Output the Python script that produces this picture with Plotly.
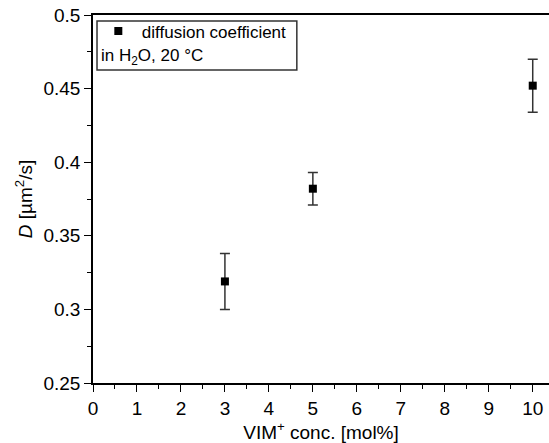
import plotly.graph_objects as go

conc = [3, 5, 10]
D = [0.319, 0.382, 0.452]
D_err = [0.019, 0.011, 0.018]

series_name = "diffusion coefficient"
note = "in H<sub>2</sub>O, 20 °C"

FONT = "Liberation Sans, Arial, sans-serif"

fig = go.Figure()
fig.add_trace(go.Scatter(
    x=conc, y=D, mode="markers", name=series_name,
    marker=dict(symbol="square", size=8, color="black"),
    error_y=dict(type="data", array=D_err, visible=True, color="#333333", thickness=1.5, width=5),
))

fig.update_layout(
    width=549, height=443,
    margin=dict(l=93, r=0, t=15, b=60),
    plot_bgcolor="white", paper_bgcolor="white",
    font=dict(family=FONT, size=19, color="black"),
    showlegend=True,
    legend=dict(x=0.004, y=1.004, xanchor="left", yanchor="top",
                bgcolor="rgba(0,0,0,0)", font=dict(size=17), itemwidth=37),
    xaxis=dict(range=[0, 10.37], dtick=1, tick0=0, showgrid=False, zeroline=False,
               showline=True, linecolor="black", linewidth=1.5, mirror=True,
               ticks="outside", ticklen=7, tickwidth=1.2, tickcolor="black",
               minor=dict(dtick=0.5, ticks="outside", ticklen=4, tickcolor="black"),
               title=dict(text="VIM<sup>+</sup> conc. [mol%]", standoff=2, font=dict(size=19))),
    yaxis=dict(range=[0.25, 0.5], dtick=0.05, tick0=0.25, showgrid=False, zeroline=False,
               showline=True, linecolor="black", linewidth=1.5,
               ticks="outside", ticklen=7, tickwidth=1.2, tickcolor="black",
               minor=dict(dtick=0.025, ticks="outside", ticklen=4, tickcolor="black"),
               title=dict(text="<i>D</i> [µm<sup>2</sup>/s]", standoff=6, font=dict(size=19))),
)

fig.add_shape(type="rect", xref="paper", yref="paper",
              x0=0.0088, x1=0.447, y0=0.8505, y1=0.9837,
              line=dict(color="#333333", width=1.5), fillcolor="rgba(0,0,0,0)")
fig.add_annotation(text=note, xref="paper", yref="paper", x=0.0135, y=0.886,
                   xanchor="left", yanchor="middle", showarrow=False, font=dict(size=17))

fig.write_html("out.html")
